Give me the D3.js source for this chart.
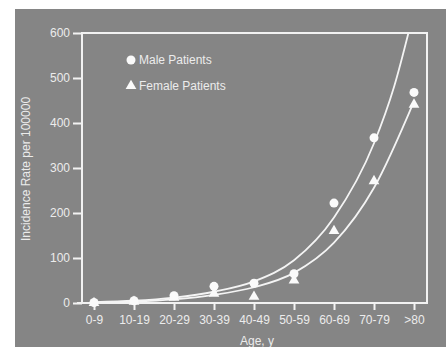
<!DOCTYPE html>
<html>
<head>
<meta charset="utf-8">
<script src="https://cdn.jsdelivr.net/npm/d3@7"></script>
<style>
  body { margin: 0; background: #fff; }
  svg text { font-family: "Liberation Sans", Arial, sans-serif; fill: #ececec; }
</style>
</head>
<body>
<div id="chart"></div>
<script>
// Age groups and observed incidence (per 100 000)
const ageGroups = ["0-9", "10-19", "20-29", "30-39", "40-49", "50-59", "60-69", "70-79", ">80"];
const maleRates = [1, 5, 16, 37, 44, 65, 222, 367, 468];
const femaleRates = [0, 3, 12, 21, 14, 50, 160, 271, 441];

// Fitted curves: [age group index, rate]
const maleFit = [[0, 2], [1, 5], [2, 12], [3, 25], [4, 48], [5, 95], [6, 190], [7, 355], [7.5, 480], [8, 650]];
const femaleFit = [[0, 1], [1, 3], [2, 8], [3, 18], [4, 35], [5, 67], [6, 134], [7, 256], [8, 448]];

const yTicks = [0, 100, 200, 300, 400, 500, 600];

const width = 446, height = 347;
const margin = { top: 33, right: 19, bottom: 44, left: 82 };
const innerW = width - margin.left - margin.right;
const innerH = height - margin.top - margin.bottom;

const svg = d3.select("#chart").append("svg")
  .attr("width", width).attr("height", height);

// Gray panel behind the chart
svg.append("rect").attr("x", 15).attr("y", 9)
  .attr("width", width - 15).attr("height", height - 9)
  .attr("fill", "#858585");

const plot = svg.append("g").attr("transform", `translate(${margin.left},${margin.top})`);

const x = d3.scaleLinear().domain([0, 8]).range([12, 332]);
const y = d3.scaleLinear().domain([0, 600]).range([innerH, 0]);

svg.append("defs").append("clipPath").attr("id", "plotClip")
  .append("rect").attr("width", innerW).attr("height", innerH);

// Frame
plot.append("rect").attr("width", innerW).attr("height", innerH)
  .attr("fill", "none").attr("stroke", "#f2f2f2").attr("stroke-width", 2);

// Y axis
const yAxis = d3.axisLeft(y).tickValues(yTicks).tickSize(9).tickPadding(3);
const yG = plot.append("g").call(yAxis);
yG.select(".domain").remove();
yG.selectAll("line").attr("stroke", "#f2f2f2").attr("stroke-width", 2);
yG.selectAll("text").attr("font-size", 12).attr("fill", "#ececec");

// X axis
const xAxis = d3.axisBottom(x).tickValues(d3.range(ageGroups.length))
  .tickFormat((i) => ageGroups[i]).tickSize(7).tickPadding(5);
const xG = plot.append("g").attr("transform", `translate(0,${innerH})`).call(xAxis);
xG.select(".domain").attr("d", `M-5,0H${innerW}`).attr("stroke", "#f2f2f2").attr("stroke-width", 2);
xG.selectAll("line").attr("stroke", "#f2f2f2").attr("stroke-width", 2);
xG.selectAll("text").attr("font-size", 12).attr("fill", "#ececec");

// Axis titles
svg.append("text").attr("x", 257).attr("y", 345)
  .attr("text-anchor", "middle").attr("font-size", 12).text("Age, y");
svg.append("text")
  .attr("transform", "translate(30,169) rotate(-90)")
  .attr("text-anchor", "middle").attr("font-size", 12).text("Incidence Rate per 100000");

// Fitted curves
const line = d3.line().curve(d3.curveMonotoneX)
  .x((d) => x(d[0])).y((d) => y(d[1]));
const curves = plot.append("g").attr("clip-path", "url(#plotClip)");
[maleFit, femaleFit].forEach((pts) => {
  curves.append("path").datum(pts).attr("d", line)
    .attr("fill", "none").attr("stroke", "#f4f4f4").attr("stroke-width", 1.8);
});

// Points
plot.selectAll("circle.male").data(maleRates).join("circle")
  .attr("class", "male")
  .attr("cx", (d, i) => x(i)).attr("cy", (d) => y(d))
  .attr("r", 4.5).attr("fill", "#fafafa");

const tri = d3.symbol().type(d3.symbolTriangle).size(50);
plot.selectAll("path.female").data(femaleRates).join("path")
  .attr("class", "female")
  .attr("transform", (d, i) => `translate(${x(i)},${y(d)})`)
  .attr("d", tri).attr("fill", "#fafafa");

// Legend
const legend = plot.append("g").attr("transform", "translate(49,27)");
legend.append("circle").attr("cx", 0).attr("cy", 0).attr("r", 4.5).attr("fill", "#fafafa");
legend.append("text").attr("x", 8).attr("y", 4).attr("font-size", 12).text("Male Patients");
legend.append("path").attr("transform", "translate(0,26)").attr("d", tri).attr("fill", "#fafafa");
legend.append("text").attr("x", 8).attr("y", 30).attr("font-size", 12).text("Female Patients");
</script>
</body>
</html>
